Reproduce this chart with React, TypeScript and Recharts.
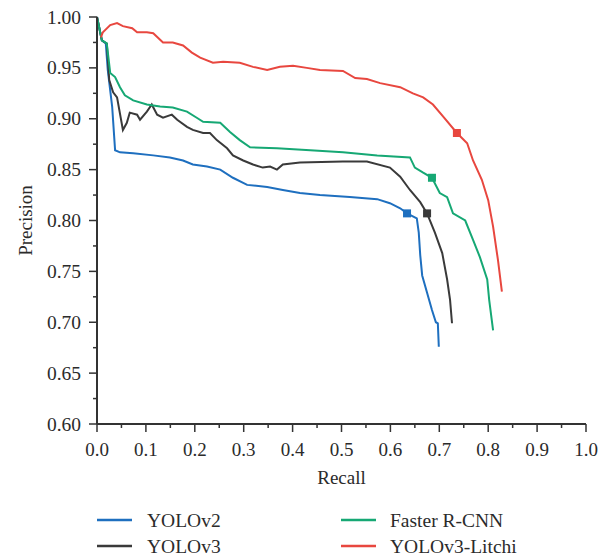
import React from 'react';
import { ComposedChart, Line, Scatter, XAxis, YAxis, Legend } from 'recharts';

const seriesNames = ['YOLOv2', 'YOLOv3', 'Faster R-CNN', 'YOLOv3-Litchi'];
const seriesColors = ['#1e6fbf', '#3a3a3a', '#16a874', '#e8473f'];

const xTicks = [0, 0.05, 0.1, 0.15, 0.2, 0.25, 0.3, 0.35, 0.4, 0.45, 0.5, 0.55, 0.6, 0.65, 0.7, 0.75, 0.8, 0.85, 0.9, 0.95, 1.0];
const yTicks = [0.6, 0.625, 0.65, 0.675, 0.7, 0.725, 0.75, 0.775, 0.8, 0.825, 0.85, 0.875, 0.9, 0.925, 0.95, 0.975, 1.0];

const yolov2Recall = [0, 0.01, 0.018, 0.022, 0.031, 0.037, 0.047, 0.074, 0.115, 0.149, 0.176, 0.196, 0.225, 0.252, 0.278, 0.307, 0.348, 0.38, 0.415, 0.456, 0.517, 0.573, 0.599, 0.62, 0.634, 0.654, 0.658, 0.661, 0.665, 0.675, 0.685, 0.693, 0.697, 0.699];
const yolov2Precision = [1.0, 0.977, 0.974, 0.948, 0.912, 0.869, 0.867, 0.866, 0.864, 0.862, 0.859, 0.855, 0.853, 0.85, 0.842, 0.835, 0.833, 0.83, 0.827, 0.825, 0.823, 0.821, 0.817, 0.812, 0.807, 0.802, 0.788, 0.766, 0.746, 0.729, 0.712, 0.7, 0.699, 0.676];

const yolov3Recall = [0, 0.01, 0.02, 0.025, 0.033, 0.041, 0.053, 0.061, 0.067, 0.082, 0.088, 0.102, 0.112, 0.123, 0.135, 0.153, 0.164, 0.184, 0.196, 0.217, 0.231, 0.245, 0.266, 0.278, 0.299, 0.319, 0.339, 0.354, 0.368, 0.38, 0.415, 0.503, 0.552, 0.599, 0.62, 0.64, 0.661, 0.675, 0.691, 0.706, 0.716, 0.722, 0.726];
const yolov3Precision = [1.0, 0.977, 0.974, 0.938, 0.926, 0.921, 0.889, 0.896, 0.906, 0.904, 0.899, 0.907, 0.914, 0.904, 0.901, 0.904, 0.899, 0.892, 0.889, 0.886, 0.886, 0.879, 0.871, 0.864, 0.859, 0.855, 0.852, 0.853, 0.85, 0.855, 0.857, 0.858, 0.858, 0.852, 0.843, 0.83, 0.818, 0.807, 0.788, 0.768, 0.742, 0.722, 0.699];

const frcnnRecall = [0, 0.01, 0.02, 0.027, 0.037, 0.047, 0.057, 0.074, 0.102, 0.129, 0.155, 0.184, 0.204, 0.217, 0.252, 0.272, 0.292, 0.313, 0.368, 0.436, 0.503, 0.573, 0.64, 0.65, 0.667, 0.685, 0.701, 0.716, 0.728, 0.753, 0.769, 0.783, 0.798, 0.802, 0.81];
const frcnnPrecision = [1.0, 0.977, 0.974, 0.945, 0.941, 0.931, 0.923, 0.918, 0.914, 0.912, 0.911, 0.907, 0.901, 0.897, 0.896, 0.887, 0.879, 0.872, 0.871, 0.869, 0.867, 0.864, 0.862, 0.852, 0.847, 0.842, 0.827, 0.823, 0.807, 0.8, 0.781, 0.764, 0.742, 0.722, 0.692];

const litchiRecall = [0.008, 0.012, 0.027, 0.041, 0.053, 0.072, 0.082, 0.102, 0.115, 0.135, 0.155, 0.176, 0.194, 0.211, 0.237, 0.258, 0.292, 0.319, 0.348, 0.374, 0.401, 0.429, 0.456, 0.503, 0.528, 0.552, 0.579, 0.62, 0.646, 0.667, 0.687, 0.708, 0.736, 0.757, 0.769, 0.787, 0.8, 0.81, 0.82, 0.828];
const litchiPrecision = [0.98, 0.985, 0.992, 0.994, 0.991, 0.989, 0.985, 0.985, 0.984, 0.975, 0.975, 0.972, 0.965, 0.96, 0.955, 0.956, 0.955, 0.951, 0.948, 0.951, 0.952, 0.95, 0.948, 0.947, 0.94, 0.939, 0.935, 0.931, 0.925, 0.921, 0.914, 0.902, 0.886, 0.876, 0.859, 0.84, 0.82, 0.794, 0.761, 0.73];

const markerRecall = [0.634, 0.675, 0.685, 0.736];
const markerPrecision = [0.807, 0.807, 0.842, 0.886];

const zip = (rs: number[], ps: number[]) => rs.map((r, i) => ({ r, p: ps[i] }));

const seriesData = [
  zip(yolov2Recall, yolov2Precision),
  zip(yolov3Recall, yolov3Precision),
  zip(frcnnRecall, frcnnPrecision),
  zip(litchiRecall, litchiPrecision),
];

const FONT = "'Liberation Serif', 'DejaVu Serif', serif";
const TEXT = '#2b2b2b';
const AXIS = '#333333';
const textStyle = { fontFamily: FONT };

const XTick = (props: any) => {
  const { x, y, payload } = props;
  const v = payload.value as number;
  const major = Math.round(v * 100) % 10 === 0;
  return (
    <g>
      <line x1={x} x2={x} y1={y} y2={y + (major ? 8 : 4)} stroke={AXIS} strokeWidth={1.5} />
      {major && (
        <text x={x} y={y + 32} textAnchor="middle" style={textStyle} fontSize={19} fill={TEXT}>
          {v.toFixed(1)}
        </text>
      )}
    </g>
  );
};

const YTick = (props: any) => {
  const { x, y, payload } = props;
  const v = payload.value as number;
  const major = Math.round(v * 1000) % 50 === 0;
  return (
    <g>
      <line x1={x} x2={x - (major ? 8 : 4)} y1={y} y2={y} stroke={AXIS} strokeWidth={1.5} />
      {major && (
        <text x={x - 16} y={y + 6.5} textAnchor="end" style={textStyle} fontSize={19.5} fill={TEXT}>
          {v.toFixed(2)}
        </text>
      )}
    </g>
  );
};

const XLabel = (props: any) => {
  const vb = props.viewBox;
  return (
    <text x={vb.x + vb.width / 2} y={vb.y + 60} textAnchor="middle" style={textStyle} fontSize={19} fill={TEXT}>
      Recall
    </text>
  );
};

const YLabel = (props: any) => {
  const vb = props.viewBox;
  return (
    <text
      transform={`translate(24, ${vb.y + vb.height / 2}) rotate(-90)`}
      textAnchor="middle"
      style={textStyle}
      fontSize={19}
      fill={TEXT}
    >
      Precision
    </text>
  );
};

const legendPos = [
  { lx: 89, tx: 139, cy: 14 },
  { lx: 89, tx: 139, cy: 40 },
  { lx: 333, tx: 382, cy: 14 },
  { lx: 333, tx: 382, cy: 40 },
];

const LegendContent = () => (
  <svg width={600} height={50} style={{ display: 'block', overflow: 'visible' }}>
    {seriesNames.map((name, i) => (
      <g key={name}>
        <line x1={legendPos[i].lx} x2={legendPos[i].lx + 35} y1={legendPos[i].cy} y2={legendPos[i].cy} stroke={seriesColors[i]} strokeWidth={2.5} />
        <text x={legendPos[i].tx} y={legendPos[i].cy + 6.5} style={textStyle} fontSize={19.5} fill={TEXT}>
          {name}
        </text>
      </g>
    ))}
  </svg>
);

const Marker = (color: string) => (props: any) => {
  const { cx, cy } = props;
  return <rect x={cx - 4} y={cy - 4} width={8} height={8} fill={color} />;
};

export default function App() {
  return (
    <div style={{ width: 600, height: 548 }}>
      <ComposedChart width={600} height={548} margin={{ top: 9, right: 22, left: 0, bottom: 62 }}>
        <XAxis
          type="number"
          dataKey="r"
          domain={[0, 1]}
          ticks={xTicks}
          interval={0}
          tick={<XTick />}
          tickLine={false}
          tickSize={0}
          tickMargin={0}
          height={70}
          axisLine={{ stroke: AXIS, strokeWidth: 2 }}
          label={<XLabel />}
        />
        <YAxis
          type="number"
          dataKey="p"
          domain={[0.6, 1]}
          ticks={yTicks}
          interval={0}
          tick={<YTick />}
          tickLine={false}
          tickSize={0}
          tickMargin={0}
          width={89}
          axisLine={{ stroke: AXIS, strokeWidth: 2 }}
          label={<YLabel />}
        />
        <Legend
          layout="horizontal"
          verticalAlign="middle"
          align="center"
          wrapperStyle={{ position: 'absolute', top: 498, left: 0, width: 600, height: 50 }}
          content={<LegendContent />}
        />
        {seriesData.map((d, i) => (
          <Line
            key={seriesNames[i]}
            data={d}
            dataKey="p"
            name={seriesNames[i]}
            type="linear"
            stroke={seriesColors[i]}
            strokeWidth={2}
            dot={false}
            activeDot={false}
            isAnimationActive={false}
          />
        ))}
        {seriesNames.map((name, i) => (
          <Scatter
            key={'m' + name}
            data={[{ r: markerRecall[i], p: markerPrecision[i] }]}
            dataKey="p"
            fill={seriesColors[i]}
            shape={Marker(seriesColors[i])}
            legendType="none"
            isAnimationActive={false}
          />
        ))}
      </ComposedChart>
    </div>
  );
}
